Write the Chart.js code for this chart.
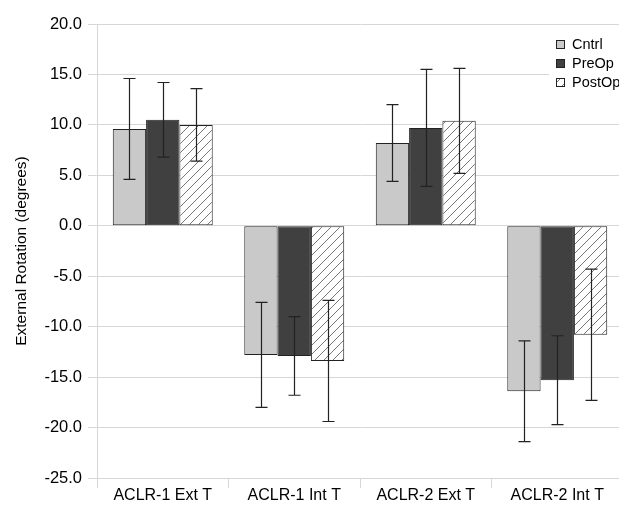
<!DOCTYPE html>
<html lang="en">
<head>
    <meta charset="UTF-8">
    <title>External Rotation</title>
    <script src="https://cdn.jsdelivr.net/npm/chart.js"></script>
    <style>
        html, body {
            margin: 0;
            padding: 0;
            background: #fff;
            overflow: hidden;
        }
        #wrap {
            width: 623px;
            height: 509px;
            position: relative;
        }
    </style>
</head>
<body>
    <div id="wrap"><canvas id="chart"></canvas></div>

    <script>
        // Data
        const categories = ['ACLR-1 Ext T', 'ACLR-1 Int T', 'ACLR-2 Ext T', 'ACLR-2 Int T'];
        const seriesNames = ['Cntrl', 'PreOp', 'PostOp'];
        const cntrlMean = [9.6, -12.8, 8.2, -16.4];
        const cntrlSD = [5.0, 5.2, 3.8, 5.0];
        const preOpMean = [10.5, -12.9, 9.7, -15.3];
        const preOpSD = [3.7, 3.9, 5.8, 4.4];
        const postOpMean = [10.0, -13.4, 10.4, -10.8];
        const postOpSD = [3.6, 6.0, 5.2, 6.5];
        const yTicks = [-25, -20, -15, -10, -5, 0, 5, 10, 15, 20];

        const FONT = '"Liberation Sans", Arial, sans-serif';

        // hatch pattern for PostOp
        function makeHatch() {
            const c = document.createElement('canvas');
            c.width = 9;
            c.height = 9;
            const g = c.getContext('2d');
            g.fillStyle = '#fff';
            g.fillRect(0, 0, 9, 9);
            g.strokeStyle = '#666';
            g.lineWidth = 0.9;
            g.beginPath();
            g.moveTo(0, 9); g.lineTo(9, 0);
            g.moveTo(-2, 2); g.lineTo(2, -2);
            g.moveTo(7, 11); g.lineTo(11, 7);
            g.stroke();
            return g.createPattern(c, 'repeat');
        }
        const hatch = makeHatch();
        const fills = ['#c9c9c9', '#404040', hatch];

        // error bars drawn from the y scale
        const errorBars = {
            id: 'errorBars',
            afterDatasetsDraw(chart) {
                const ctx = chart.ctx;
                const y = chart.scales.y;
                ctx.save();
                ctx.strokeStyle = '#222';
                ctx.lineWidth = 1.2;
                chart.data.datasets.forEach((ds, i) => {
                    const meta = chart.getDatasetMeta(i);
                    meta.data.forEach((bar, j) => {
                        const m = ds.data[j], s = ds.sd[j];
                        const top = y.getPixelForValue(m + s);
                        const bot = y.getPixelForValue(m - s);
                        const x = Math.round(bar.x) + 0.5;
                        ctx.beginPath();
                        ctx.moveTo(x, top); ctx.lineTo(x, bot);
                        ctx.moveTo(x - 6, top); ctx.lineTo(x + 6, top);
                        ctx.moveTo(x - 6, bot); ctx.lineTo(x + 6, bot);
                        ctx.stroke();
                    });
                });
                ctx.restore();
            }
        };

        // legend sitting inside the plot, top right
        const boxLegend = {
            id: 'boxLegend',
            afterDraw(chart) {
                const ctx = chart.ctx;
                ctx.save();
                ctx.fillStyle = '#fff';
                ctx.fillRect(549, 31, 80, 62);
                ctx.font = '14.5px ' + FONT;
                ctx.textBaseline = 'middle';
                chart.data.datasets.forEach((ds, i) => {
                    const top = 40 + i * 19;
                    ctx.fillStyle = ds.backgroundColor;
                    ctx.fillRect(556.5, top + 0.5, 8, 8);
                    ctx.strokeStyle = '#222';
                    ctx.lineWidth = 1;
                    ctx.strokeRect(556.5, top + 0.5, 8, 8);
                    ctx.fillStyle = '#000';
                    ctx.fillText(ds.label, 572, top + 4.5);
                });
                ctx.restore();
            }
        };

        const means = [cntrlMean, preOpMean, postOpMean];
        const sds = [cntrlSD, preOpSD, postOpSD];

        new Chart(document.getElementById('chart'), {
            type: 'bar',
            data: {
                labels: categories,
                datasets: seriesNames.map((name, i) => ({
                    label: name,
                    data: means[i],
                    sd: sds[i],
                    backgroundColor: fills[i],
                    borderColor: '#222',
                    borderWidth: 1,
                    borderSkipped: false,
                    categoryPercentage: 0.76,
                    barPercentage: 1
                }))
            },
            options: {
                responsive: true,
                maintainAspectRatio: false,
                animation: false,
                layout: {
                    padding: { top: 24, left: 0, right: 0, bottom: 0 }
                },
                plugins: {
                    legend: { display: false },
                    tooltip: { enabled: false }
                },
                scales: {
                    x: {
                        afterFit(scale) { scale.height = 31; },
                        grid: {
                            color: '#d6d6d6',
                            drawOnChartArea: false,
                            tickLength: 10
                        },
                        border: { color: '#d6d6d6' },
                        ticks: {
                            color: '#000',
                            padding: -2,
                            font: { family: FONT, size: 16 },
                            maxRotation: 0
                        }
                    },
                    y: {
                        min: -25,
                        max: 20,
                        afterFit(scale) { scale.width = 97; },
                        afterBuildTicks(scale) {
                            scale.ticks = yTicks.map(v => ({ value: v }));
                        },
                        grid: {
                            color: '#d6d6d6',
                            tickLength: 9
                        },
                        border: { color: '#d6d6d6' },
                        ticks: {
                            color: '#000',
                            padding: 6,
                            font: { family: FONT, size: 16.5 },
                            callback: v => v.toFixed(1)
                        },
                        title: {
                            display: true,
                            text: 'External Rotation (degrees)',
                            color: '#000',
                            font: { family: FONT, size: 15.5 },
                            padding: { top: 12, bottom: 0 }
                        }
                    }
                }
            },
            plugins: [errorBars, boxLegend]
        });
    </script>
</body>
</html>
